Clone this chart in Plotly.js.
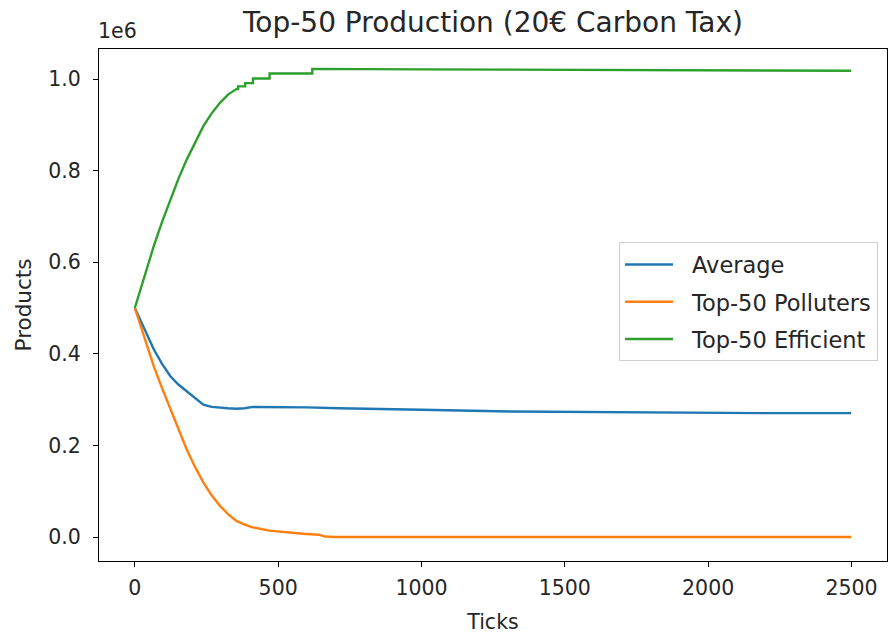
<!DOCTYPE html>
<html>
<head>
<meta charset="utf-8">
<script src="https://cdn.plot.ly/plotly-3.0.1.min.js"></script>
<style>html,body{margin:0;padding:0;background:#fff;}#chart{width:889px;height:637px;}</style>
</head>
<body>
<div id="chart"></div>
<script>
// Data (values in millions of products)
const avgTicks = [0,33,66,95,124,152,181,210,239,268,297,325,354,383,412,470,527,600,712,850,1000,1310,1500,1700,2002,2200,2499];
const avgValues = [0.5,0.455,0.410,0.378,0.351,0.333,0.318,0.302,0.289,0.284,0.282,0.281,0.280,0.281,0.284,0.284,0.284,0.283,0.281,0.280,0.278,0.274,0.273,0.272,0.271,0.2705,0.2705];

const polTicks = [0,33,66,95,124,152,181,210,239,268,297,325,354,383,412,470,527,585,643,663,700,1000,1500,2000,2499];
const polValues = [0.5,0.437,0.373,0.325,0.279,0.235,0.191,0.153,0.119,0.091,0.068,0.050,0.035,0.027,0.021,0.014,0.010,0.007,0.005,0.001,0.0,0.0,0.0,0.0,0.0];

const effTicks = [0,33,66,95,124,152,181,210,239,268,297,325,340,354,360,360,385,385,412,412,470,470,619,619,1000,1500,2000,2499];
const effValues = [0.5,0.567,0.635,0.688,0.737,0.782,0.824,0.862,0.897,0.925,0.948,0.966,0.973,0.978,0.978,0.984,0.984,0.991,0.991,1.001,1.001,1.012,1.012,1.022,1.021,1.020,1.019,1.018];

const seriesNames = ["Average","Top-50 Polluters","Top-50 Efficient"];
const seriesColors = ["#1f77b4","#ff7f0e","#2ca02c"];
const xTickVals = [0,500,1000,1500,2000,2500];
const yTickVals = [0,0.2,0.4,0.6,0.8,1.0];
const yTickText = ["0.0","0.2","0.4","0.6","0.8","1.0"];

const xs = [avgTicks, polTicks, effTicks];
const ys = [avgValues, polValues, effValues];
const traces = seriesNames.map((n,i)=>({
  x: xs[i], y: ys[i], name: n, type: 'scatter', mode: 'lines',
  line: {color: seriesColors[i], width: 2.4}, legendgroup: 'g'+i
}));

const font = "DejaVu Sans, sans-serif";
const txt = '#262626';
const axisCommon = {
  showline: true, mirror: true, linecolor: '#000', linewidth: 1,
  ticks: 'outside', ticklen: 5, tickwidth: 1, tickcolor: '#000',
  showgrid: false, zeroline: false,
  tickfont: {family: font, size: 20.5, color: txt}
};
const layout = {
  width: 889, height: 637,
  margin: {l: 99, r: 2, t: 49, b: 76},
  paper_bgcolor: '#fff', plot_bgcolor: '#fff',
  title: {text: 'Top-50 Production (20€ Carbon Tax)', font: {family: font, size: 28, color: txt},
          x: 0.5545, xanchor: 'center', y: 0.965, yanchor: 'middle'},
  xaxis: Object.assign({}, axisCommon, {
    range: [-125, 2624], tickvals: xTickVals, ticklabelstandoff: 3,
    title: {text: 'Ticks', font: {family: font, size: 20.5, color: txt}, standoff: 16}
  }),
  yaxis: Object.assign({}, axisCommon, {
    range: [-0.0524, 1.0655], tickvals: yTickVals, ticktext: yTickText, ticklabelstandoff: 8,
    title: {text: 'Products', font: {family: font, size: 21.5, color: txt}, standoff: 10}
  }),
  showlegend: true,
  legend: {
    x: 0.9886, xanchor: 'right', y: 0.506, yanchor: 'middle',
    bgcolor: 'rgba(255,255,255,0.8)', bordercolor: '#d0d0d0', borderwidth: 1,
    font: {family: font, size: 22.5, color: txt},
    tracegroupgap: 5, traceorder: 'grouped', itemwidth: 48
  },
  annotations: [{
    text: '1e6', xref: 'paper', yref: 'paper', x: 0, y: 1, xanchor: 'left', yanchor: 'bottom',
    xshift: -3, yshift: 4, showarrow: false, font: {family: font, size: 20.5, color: txt}
  }]
};
Plotly.newPlot('chart', traces, layout, {displayModeBar: false, staticPlot: true}).then(gd => {
  // widen the gap between legend line samples and their labels (matplotlib-like)
  const shift = 14;
  const leg = gd.querySelector('.legend');
  if (!leg) return;
  leg.querySelectorAll('[clip-path]').forEach(e => e.removeAttribute('clip-path'));
  leg.querySelectorAll('.legendtext').forEach(t => {
    t.setAttribute('x', (parseFloat(t.getAttribute('x')) || 0) + shift);
  });
  const bg = leg.querySelector('.bg');
  if (bg) bg.setAttribute('width', parseFloat(bg.getAttribute('width')) + shift);
  const tr = leg.getAttribute('transform') || '';
  const m = tr.match(/translate\(\s*([-\d.]+)[ ,]+([-\d.]+)\s*\)/);
  if (m) leg.setAttribute('transform', 'translate(' + (parseFloat(m[1]) - shift) + ',' + m[2] + ')');
});
</script>
</body>
</html>
